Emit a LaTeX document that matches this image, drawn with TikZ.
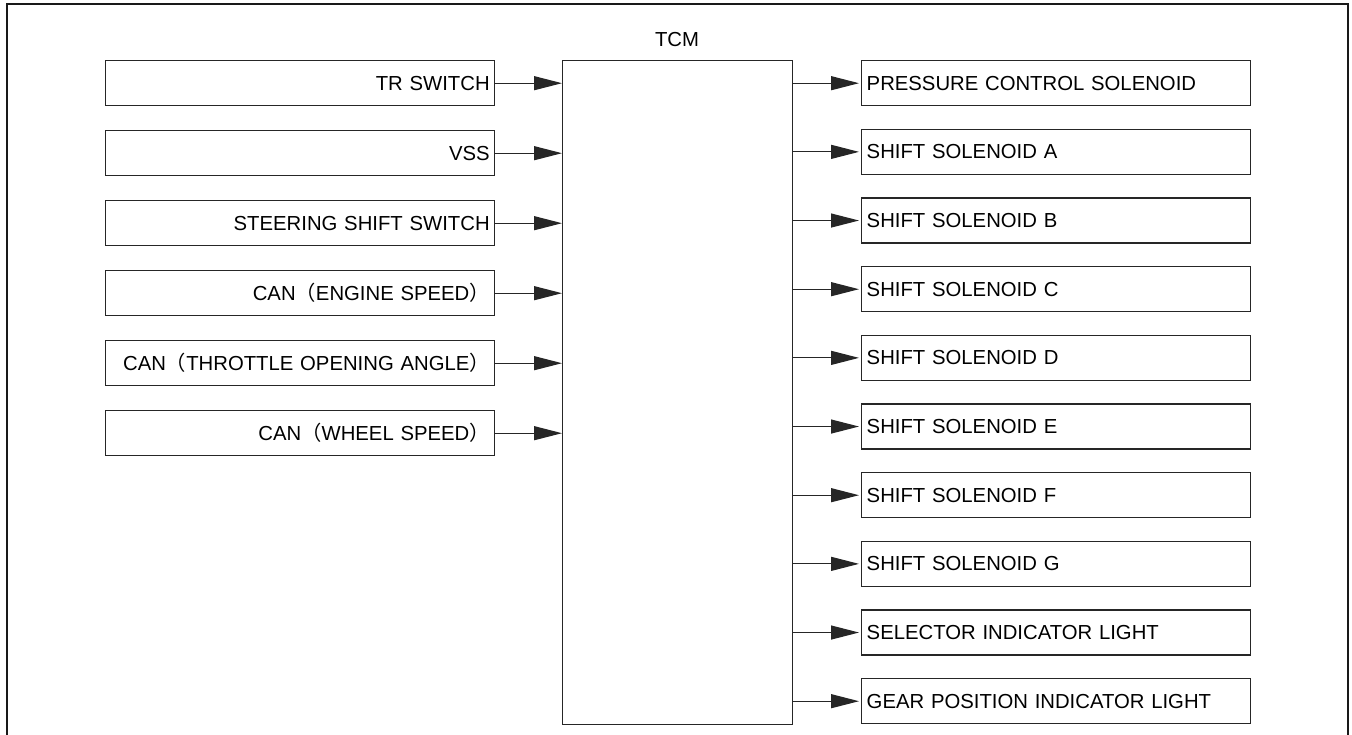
\documentclass[tikz,border=0pt]{standalone}
\usepackage{fontspec}
\setmainfont{Liberation Sans}
\newfontfamily\cjk{Noto Sans CJK JP}
\usetikzlibrary{arrows.meta}
\begin{document}
\begin{tikzpicture}[x=1pt,y=-1pt,
  every node/.style={font=\fontsize{20.3}{23}\selectfont, text=black},
  box/.style={draw=black!85, line width=1.4pt, rectangle, minimum height=45pt, inner sep=5pt, text width=379pt},
  inbox/.style={box, align=right},
  outbox/.style={box, align=left},
  arr/.style={draw=black!85, line width=1.2pt, -{Triangle[length=28pt,width=14pt]}}
]
\useasboundingbox (0,0) rectangle (1352,735);
\draw[line width=1.6pt, black!90] (7,745) -- (7,4) -- (1348,4) -- (1348,745);
% TCM
\node[draw=black!85, line width=1.4pt, rectangle, minimum width=230pt, minimum height=664pt, inner sep=0pt, anchor=north west] (tcm) at (562,60) {};
\node[anchor=base] (tcmlabel) at (677,47) {TCM};
% inputs
\node[inbox, anchor=north west] (i1) at (105,60) {TR SWITCH};
\node[inbox, anchor=north west] (i2) at (105,130) {VSS};
\node[inbox, anchor=north west] (i3) at (105,200) {STEERING SHIFT SWITCH};
\node[inbox, anchor=north west] (i4) at (105,270) {CAN{\cjk （}ENGINE SPEED{\cjk ）}};
\node[inbox, anchor=north west] (i5) at (105,340) {CAN{\cjk （}THROTTLE OPENING ANGLE{\cjk ）}};
\node[inbox, anchor=north west] (i6) at (105,410) {CAN{\cjk （}WHEEL SPEED{\cjk ）}};
\foreach \n in {i1,i2,i3,i4,i5,i6} {
  \draw[arr] (\n.east) -- (\n.east -| tcm.west);
}
% outputs
\node[outbox, anchor=north west] (o1) at (861,60) {PRESSURE CONTROL SOLENOID};
\node[outbox, anchor=north west] (o2) at (861,128.67) {SHIFT SOLENOID A};
\node[outbox, anchor=north west] (o3) at (861,197.33) {SHIFT SOLENOID B};
\node[outbox, anchor=north west] (o4) at (861,266) {SHIFT SOLENOID C};
\node[outbox, anchor=north west] (o5) at (861,334.67) {SHIFT SOLENOID D};
\node[outbox, anchor=north west] (o6) at (861,403.33) {SHIFT SOLENOID E};
\node[outbox, anchor=north west] (o7) at (861,472) {SHIFT SOLENOID F};
\node[outbox, anchor=north west] (o8) at (861,540.67) {SHIFT SOLENOID G};
\node[outbox, anchor=north west] (o9) at (861,609.33) {SELECTOR INDICATOR LIGHT};
\node[outbox, anchor=north west] (o10) at (861,678) {GEAR POSITION INDICATOR LIGHT};
\foreach \n in {o1,o2,o3,o4,o5,o6,o7,o8,o9,o10} {
  \draw[arr, shorten >=2pt] (\n.west -| tcm.east) -- (\n.west);
}
\end{tikzpicture}
\end{document}
